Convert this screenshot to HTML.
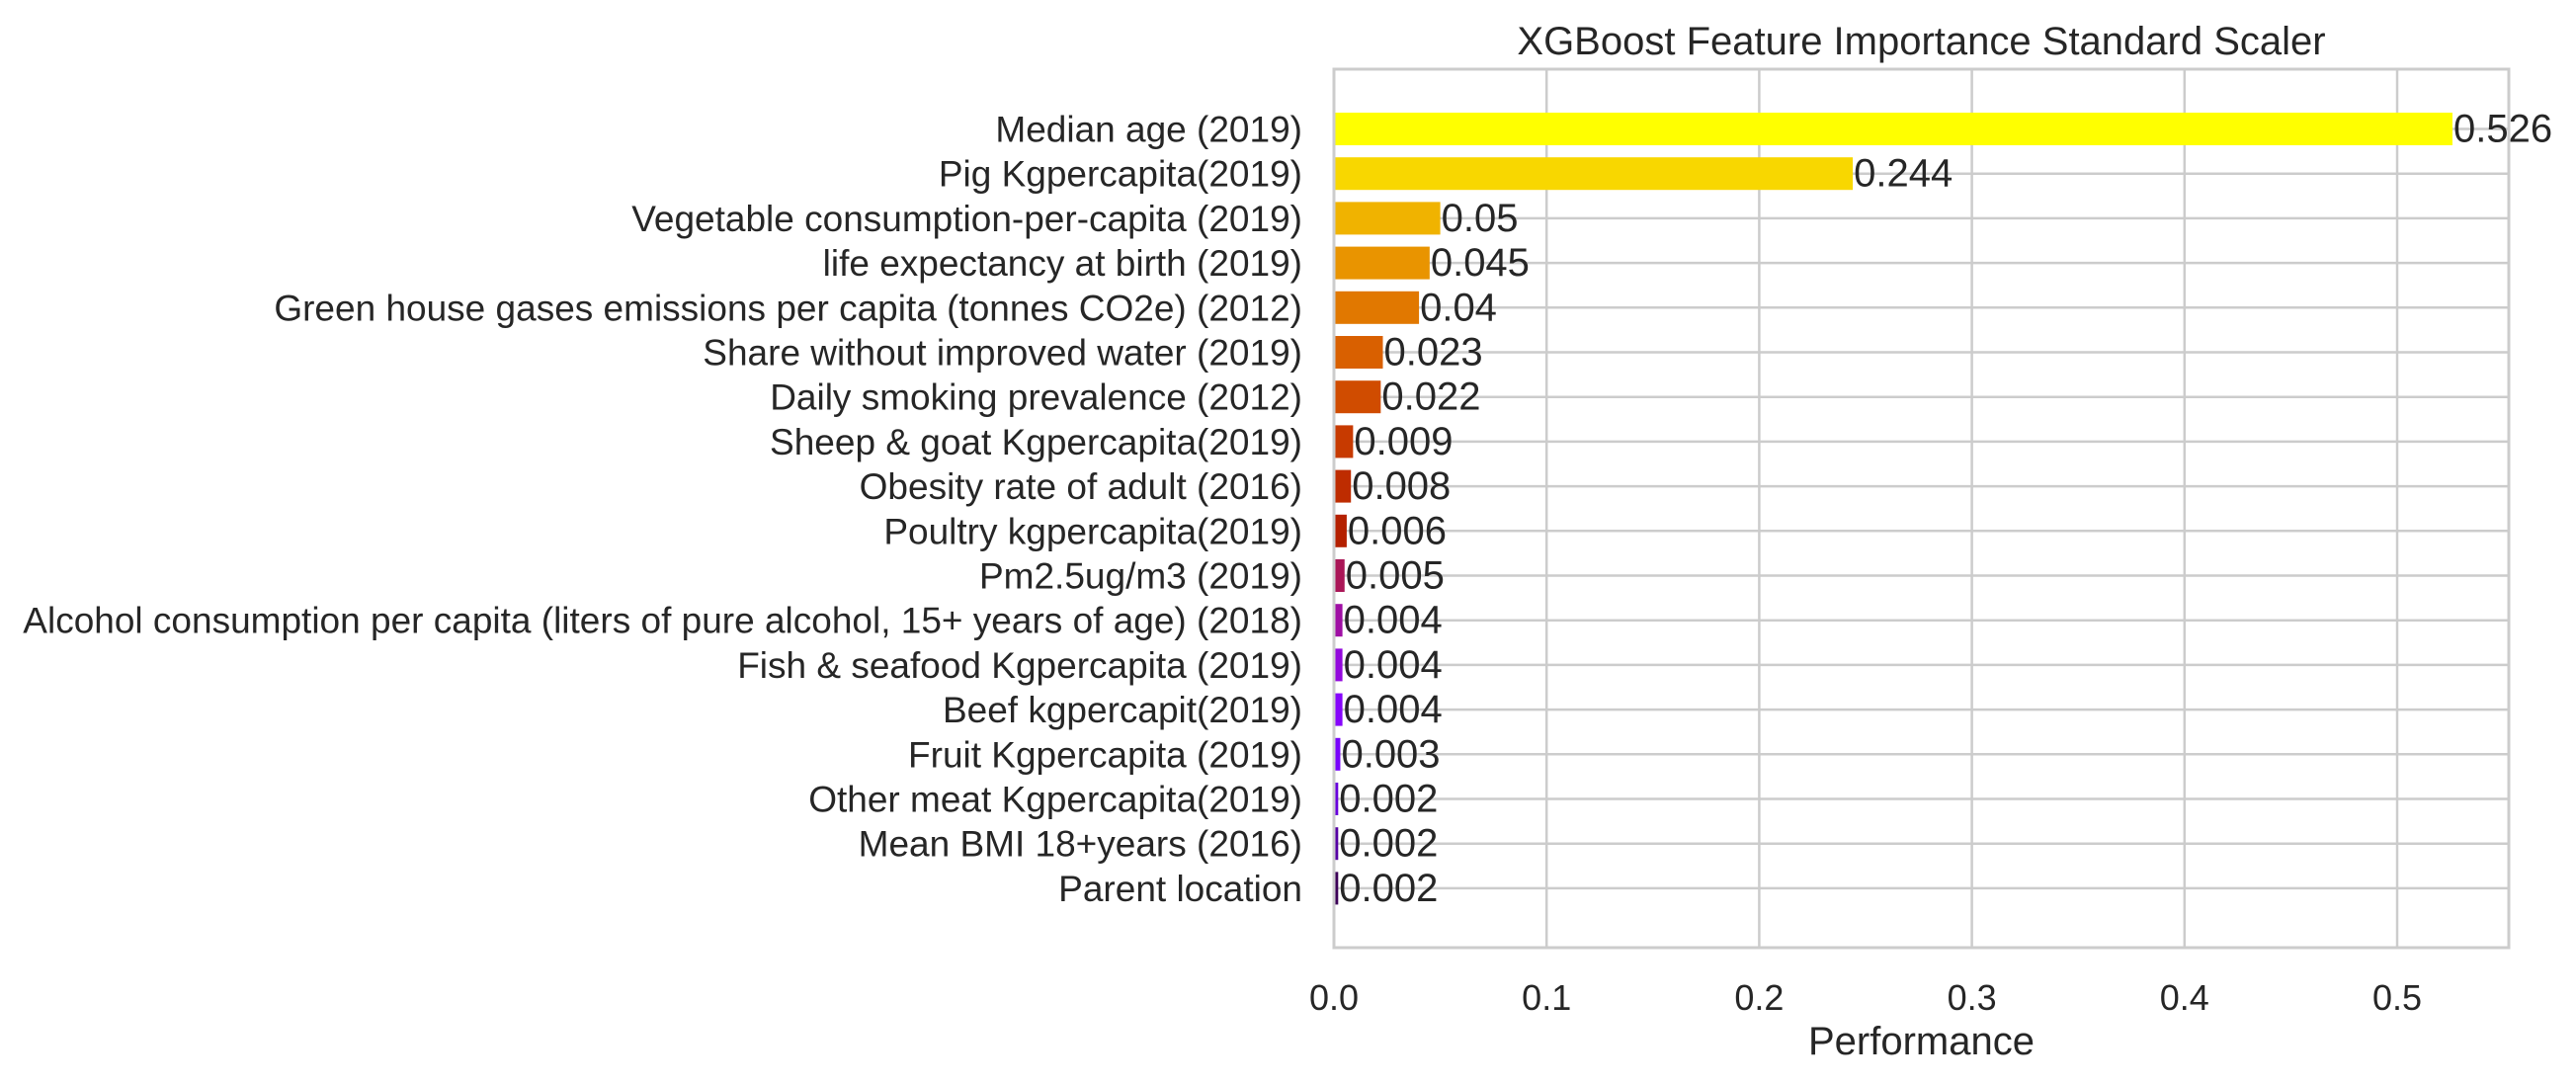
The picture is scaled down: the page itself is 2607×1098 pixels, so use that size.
<!DOCTYPE html>
<html><head><meta charset="utf-8"><style>
html,body{margin:0;padding:0;background:#fff;}
svg{display:block;font-family:"Liberation Sans",Arial,sans-serif;}
</style></head><body>
<svg id="chart" width="2607" height="1098" viewBox="0 0 2607 1098"></svg>
<script>
const categories = ["Median age (2019)","Pig Kgpercapita(2019)","Vegetable consumption-per-capita (2019)","life expectancy at birth (2019)","Green house gases emissions per capita (tonnes CO2e) (2012)","Share without improved water (2019)","Daily smoking prevalence (2012)","Sheep & goat Kgpercapita(2019)","Obesity rate of adult (2016)","Poultry kgpercapita(2019)","Pm2.5ug/m3 (2019)","Alcohol consumption per capita (liters of pure alcohol, 15+ years of age) (2018) ","Fish & seafood Kgpercapita (2019)","Beef kgpercapit(2019)","Fruit Kgpercapita (2019)","Other meat Kgpercapita(2019)","Mean BMI 18+years (2016)","Parent location"];
const values = [0.526,0.244,0.05,0.045,0.04,0.023,0.022,0.009,0.008,0.006,0.005,0.004,0.004,0.004,0.003,0.002,0.002,0.002];
const valueLabels = ["0.526","0.244","0.05","0.045","0.04","0.023","0.022","0.009","0.008","0.006","0.005","0.004","0.004","0.004","0.003","0.002","0.002","0.002"];
const xTicks = [0,0.1,0.2,0.3,0.4,0.5];
const xTickLabels = ["0.0","0.1","0.2","0.3","0.4","0.5"];

const NS="http://www.w3.org/2000/svg";
const svg=document.getElementById('chart');
const L=1350,R=2539,T=70,B=959,XMAX=0.5525;
const x=v=>L+(v/XMAX)*(R-L);
const y0=130.5,step=45.2;
const y=i=>y0+i*step;
function mk(tag,attrs,parent){const e=document.createElementNS(NS,tag);for(const k in attrs)e.setAttribute(k,attrs[k]);(parent||svg).appendChild(e);return e;}
function gnuplot(t){const r=Math.sqrt(t),g=t*t*t,b=Math.max(0,Math.sin(2*Math.PI*t));return `rgb(${Math.round(r*255)},${Math.round(g*255)},${Math.round(b*255)})`;}

const grid=mk('g',{});


xTicks.forEach(v=>{const l=mk('line',{x1:x(v),x2:x(v),y1:T,y2:B,stroke:'#cccccc','stroke-width':2.5},grid);

});
categories.forEach((c,i)=>{const l=mk('line',{x1:L,x2:R,y1:y(i),y2:y(i),stroke:'#cccccc','stroke-width':2.5},grid);

});

const bars=mk('g',{});


const n=categories.length;
values.forEach((v,i)=>{
  const r=mk('rect',{x:L,y:y(i)-16.5,width:Math.max(0,x(v)-L),height:33,fill:gnuplot(1-i/n)},bars);
  
  
  const t=mk('text',{x:x(v)+1,y:y(i)+13,'font-size':40,fill:'#262626'},bars);
  
  
  t.textContent=valueLabels[i];
});

const frame=mk('rect',{x:L,y:T,width:R-L,height:B-T,fill:'none',stroke:'#cccccc','stroke-width':3});



const yl=mk('g',{});


categories.forEach((c,i)=>{const t=mk('text',{x:1318,y:y(i)+13,'font-size':37,fill:'#262626','text-anchor':'end'},yl);


t.textContent=c.trim();});

const xl=mk('g',{});


xTicks.forEach((v,i)=>{const t=mk('text',{x:x(v),y:1022,'font-size':36,fill:'#262626','text-anchor':'middle'},xl);


t.textContent=xTickLabels[i];});

const xt=mk('text',{x:(L+R)/2,y:1067,'font-size':40,fill:'#262626','text-anchor':'middle'});


xt.textContent='Performance';

const title=mk('text',{x:(L+R)/2,y:55,'font-size':40,fill:'#262626','text-anchor':'middle'});


title.textContent='XGBoost Feature Importance Standard Scaler';
</script>
</body></html>
